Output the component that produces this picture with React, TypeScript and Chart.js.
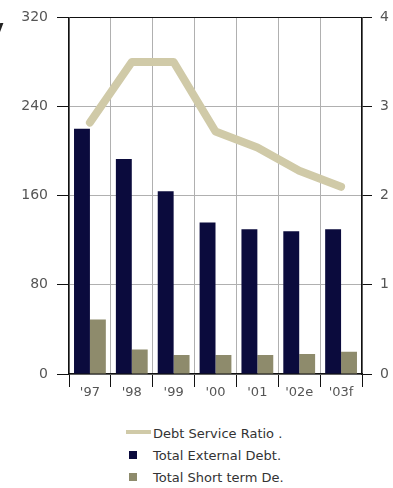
import React, { useEffect, useRef } from "react";
import { Chart, registerables } from "chart.js";

Chart.register(...registerables);

const years = ["'97", "'98", "'99", "'00", "'01", "'02e", "'03f"];
const debtServiceRatio = [2.82, 3.5, 3.5, 2.72, 2.54, 2.28, 2.1];
const totalExternalDebt = [220, 193, 164, 136, 130, 128, 130];
const totalShortTermDebt = [49, 22, 17, 17, 17, 18, 20];
const leftTicks = [0, 80, 160, 240, 320];
const rightTicks = [0, 1, 2, 3, 4];

const RATIO_COLOR = "rgb(208,202,168)";
const EXTERNAL_COLOR = "#0b0b3d";
const SHORT_COLOR = "#8e8b6c";
const FONT = "'DejaVu Sans', 'Liberation Sans', sans-serif";

const legendItems = [
  { label: "Debt Service Ratio .", color: RATIO_COLOR, kind: "line" },
  { label: "Total External Debt.", color: EXTERNAL_COLOR, kind: "box" },
  { label: "Total Short term De.", color: SHORT_COLOR, kind: "box" },
];

export default function App() {
  const canvasRef = useRef<HTMLCanvasElement | null>(null);

  useEffect(() => {
    const canvas = canvasRef.current;
    if (!canvas) return;
    const chart = new Chart(canvas, {
      type: "bar",
      data: {
        labels: years,
        datasets: [
          {
            type: "line",
            label: "Debt Service Ratio .",
            data: debtServiceRatio,
            yAxisID: "y1",
            borderColor: RATIO_COLOR,
            backgroundColor: RATIO_COLOR,
            borderWidth: 8,
            pointRadius: 0,
            tension: 0,
            borderJoinStyle: "round",
            borderCapStyle: "round",
            order: 0,
          },
          {
            type: "bar",
            label: "Total External Debt.",
            data: totalExternalDebt,
            yAxisID: "y",
            backgroundColor: EXTERNAL_COLOR,
            categoryPercentage: 0.76,
            barPercentage: 1,
            order: 1,
          },
          {
            type: "bar",
            label: "Total Short term De.",
            data: totalShortTermDebt,
            yAxisID: "y",
            backgroundColor: SHORT_COLOR,
            categoryPercentage: 0.76,
            barPercentage: 1,
            order: 1,
          },
        ],
      },
      options: {
        responsive: false,
        animation: false,
        devicePixelRatio: 1,
        layout: { padding: { top: 17, left: 0, right: 0, bottom: 0 } },
        plugins: {
          legend: { display: false },
          tooltip: { enabled: false },
        },
        scales: {
          x: {
            offset: true,
            grid: {
              offset: true,
              color: "#b0b0b0",
              tickColor: "#111",
              tickLength: 13,
              lineWidth: 1,
            },
            border: { color: "#111", width: 1.5 },
            ticks: {
              color: "#555",
              font: { family: FONT, size: 13 },
              padding: -2,
              maxRotation: 0,
            },
            afterFit: (scale: any) => {
              scale.height = 26;
            },
          },
          y: {
            position: "left",
            min: 0,
            max: 320,
            afterBuildTicks: (scale: any) => {
              scale.ticks = leftTicks.map((v) => ({ value: v }));
            },
            grid: {
              color: (ctx: any) =>
                ctx.tick && ctx.tick.value === 320 ? "#111" : "#b0b0b0",
              tickColor: "#111",
              tickLength: 12,
            },
            border: { color: "#111", width: 1.5 },
            ticks: {
              color: "#555",
              font: { family: FONT, size: 14 },
              padding: 9,
            },
            afterFit: (scale: any) => {
              scale.width = 69;
            },
          },
          y1: {
            position: "right",
            min: 0,
            max: 4,
            afterBuildTicks: (scale: any) => {
              scale.ticks = rightTicks.map((v) => ({ value: v }));
            },
            grid: {
              drawOnChartArea: false,
              tickColor: "#111",
              tickLength: 10,
            },
            border: { color: "#111", width: 1.5 },
            ticks: {
              color: "#555",
              font: { family: FONT, size: 14 },
              padding: 8,
            },
            afterFit: (scale: any) => {
              scale.width = 31;
            },
          },
        },
      },
    });
    return () => chart.destroy();
  }, []);

  return (
    <div
      style={{
        position: "absolute",
        left: 0,
        top: 0,
        width: 393,
        height: 488,
        background: "#fff",
        overflow: "hidden",
      }}
    >
      <span
        style={{
          position: "absolute",
          left: -8,
          top: 16,
          fontFamily: FONT,
          fontWeight: "bold",
          fontSize: 18,
          color: "#222",
        }}
      >
        y
      </span>
      <canvas ref={canvasRef} width={393} height={400} style={{ display: "block" }} />
      {legendItems.map((item, i) => (
        <div
          key={item.label}
          style={{
            position: "absolute",
            left: 125,
            top: 424 + i * 22,
            height: 18,
            display: "flex",
            alignItems: "center",
            fontFamily: FONT,
            fontSize: 13,
            color: "#333",
            whiteSpace: "nowrap",
          }}
        >
          <div style={{ width: 26, display: "flex", justifyContent: "center" }}>
            {item.kind === "line" ? (
              <div style={{ width: 25, height: 4, background: item.color, marginTop: -3 }} />
            ) : (
              <div style={{ width: 8, height: 8, background: item.color, marginLeft: -10 }} />
            )}
          </div>
          <span style={{ marginLeft: 2 }}>{item.label}</span>
        </div>
      ))}
    </div>
  );
}
